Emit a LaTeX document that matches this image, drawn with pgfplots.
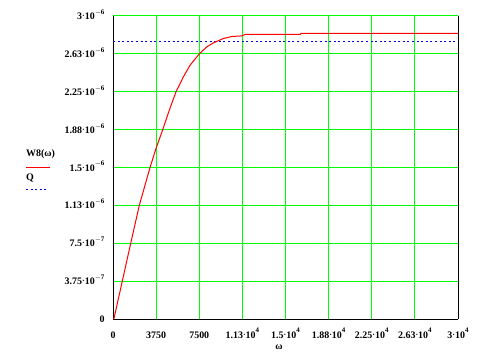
\documentclass[border=0pt]{standalone}
\usepackage{pgfplots}
\pgfplotsset{compat=1.18}
\usepackage{fontspec}
\setmainfont{Liberation Serif}
\definecolor{mgreen}{RGB}{0,255,0}
\definecolor{mblue}{RGB}{0,0,210}
\definecolor{mred}{RGB}{255,0,0}
\newcommand{\sci}[2]{#1{\fontsize{8}{8}\selectfont\raisebox{0.25ex}{·}}10\raisebox{1.1ex}{\fontsize{7}{7}\selectfont #2}}
\begin{document}
\begin{tikzpicture}[x=1bp,y=1bp]
\path (0,0) rectangle (492,359);
\begin{axis}[
  at={(113bp,40bp)}, anchor=south west,
  scale only axis, width=345bp, height=303bp,
  xmin=0, xmax=30000, ymin=0, ymax=3e-6,
  xtick={0,3750,7500,11250,15000,18750,22500,26250,30000},
  ytick={0,3.75e-7,7.5e-7,1.125e-6,1.5e-6,1.875e-6,2.25e-6,2.625e-6,3e-6},
  xticklabels={0,3750,7500,\sci{1.13}{4},\sci{1.5}{4},\sci{1.88}{4},\sci{2.25}{4},\sci{2.63}{4},\sci{3}{4}},
  yticklabels={0,\sci{3.75}{$-$7},\sci{7.5}{$-$7},\sci{1.13}{$-$6},\sci{1.5}{$-$6},\sci{1.88}{$-$6},\sci{2.25}{$-$6},\sci{2.63}{$-$6},\sci{3}{$-$6}},
  scaled ticks=false,
  grid=major, major grid style={mgreen, line width=1bp},
  major tick length=0pt,
  axis x line=bottom, axis y line=left,
  axis line style={-, black, line width=1bp},
  ticklabel style={font=\bfseries\fontsize{10}{12}\selectfont},
  xticklabel style={anchor=base, yshift=-19bp},
  yticklabel style={anchor=base east, xshift=-5bp, yshift=-3.5bp},
  clip=false,
]
\addplot[mblue, line width=1bp, dash pattern=on 2bp off 2.6bp] coordinates {(0,2.75e-6) (30000,2.75e-6)};
\addplot[mred, line width=1bp] coordinates {
(0,0) (87,7e-9) (809,3.75e-7) (1540,7.5e-7) (2288,1.125e-6) (3219,1.5e-6)
(3750,1.692e-6) (4324,1.875e-6) (4898,2.068e-6) (5481,2.25e-6) (6116,2.397e-6)
(6699,2.513e-6) (7508,2.625e-6) (8152,2.694e-6) (8726,2.734e-6) (9596,2.777e-6)
(10327,2.797e-6) (11197,2.803e-6) (11484,2.817e-6) (16269,2.817e-6)
(16356,2.827e-6) (30000,2.827e-6)};
\draw[black, line width=1bp] (rel axis cs:1,0) -- (rel axis cs:1,1);
\end{axis}
\node[font=\bfseries\fontsize{10}{12}\selectfont] at (279,12) {ω};
\node[font=\bfseries\fontsize{10}{12}\selectfont, anchor=west, inner sep=0pt] at (26,205) {W8(ω)};
\draw[mred, line width=1bp] (26,192) -- (50,192);
\node[font=\bfseries\fontsize{10}{12}\selectfont, anchor=west, inner sep=0pt] at (26,181) {Q};
\draw[mblue, line width=1bp, dash pattern=on 2bp off 2.6bp] (26,170) -- (46,170);
\end{tikzpicture}
\end{document}
